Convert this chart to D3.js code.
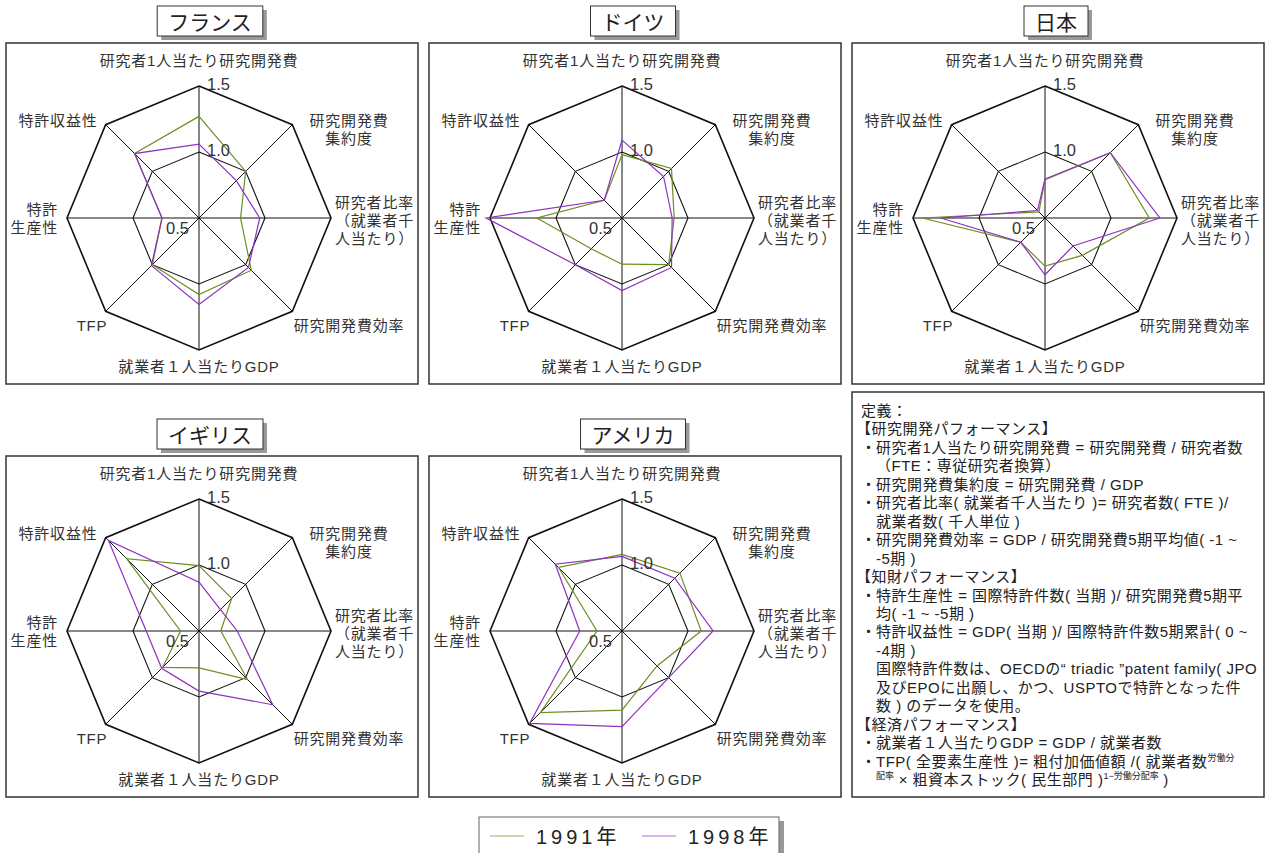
<!DOCTYPE html>
<html>
<head>
<meta charset="utf-8">
<script src="https://cdn.jsdelivr.net/npm/d3@7"></script>
<style>
  body { margin: 0; background: #fff; }
  svg { display: block; }
  text { font-family: "Liberation Sans", "Noto Sans CJK JP", sans-serif; fill: #222; }
</style>
</head>
<body>
<script>
// axis labels, clockwise from the top (each entry = lines of the label)
var axisLabels = [
    ["研究者1人当たり研究開発費"],
    ["研究開発費", "集約度"],
    ["研究者比率", "（就業者千", "人当たり）"],
    ["研究開発費効率"],
    ["就業者１人当たりGDP"],
    ["TFP"],
    ["特許", "生産性"],
    ["特許収益性"]
];
var countries = ["フランス", "ドイツ", "日本", "イギリス", "アメリカ"];
var years = ["1991年", "1998年"];
var ticks = [0.5, 1.0, 1.5];

// values, same axis order as above
var france1991 = [1.27, 1.00, 0.815, 1.06, 1.08, 1.00, 0.78, 1.19];
var france1998 = [1.06, 0.90, 0.96, 1.03, 1.155, 1.01, 0.78, 1.19];
var germany1991 = [0.98, 1.03, 0.895, 1.00, 0.85, 0.83, 1.145, 0.69];
var germany1998 = [1.09, 0.945, 0.88, 1.03, 1.05, 1.00, 1.53, 0.69];
var japan1991 = [0.79, 1.20, 1.29, 0.90, 0.865, 0.76, 1.43, 0.565];
var japan1998 = [0.795, 1.20, 1.37, 0.80, 0.93, 0.76, 1.29, 0.58];
var uk1991 = [0.995, 0.85, 0.665, 1.02, 0.78, 0.89, 0.64, 1.275];
var uk1998 = [0.87, 0.73, 0.79, 1.29, 0.955, 0.90, 0.90, 1.47];
var usa1991 = [1.08, 1.12, 1.10, 0.875, 1.10, 1.375, 0.69, 1.18];
var usa1998 = [1.065, 1.065, 1.19, 1.00, 1.225, 1.49, 0.82, 1.215];

var seriesByCountry = [
    [france1991, france1998],
    [germany1991, germany1998],
    [japan1991, japan1998],
    [uk1991, uk1998],
    [usa1991, usa1998]
];

// definitions text: segments are [text, isSuperscript]
var definitions = [
    {x: 861, segs: [["定義：", 0]]},
    {x: 856, segs: [["【研究開発パフォーマンス】", 0]]},
    {x: 876, b: 1, segs: [["研究者1人当たり研究開発費 = 研究開発費 / 研究者数", 0]]},
    {x: 876, segs: [["（FTE：専従研究者換算）", 0]]},
    {x: 876, b: 1, segs: [["研究開発費集約度 = 研究開発費 / GDP", 0]]},
    {x: 876, b: 1, segs: [["研究者比率( 就業者千人当たり )= 研究者数( FTE )/", 0]]},
    {x: 876, segs: [["就業者数( 千人単位 )", 0]]},
    {x: 876, b: 1, segs: [["研究開発費効率 = GDP / 研究開発費5期平均値( -1 ~", 0]]},
    {x: 876, segs: [["-5期 )", 0]]},
    {x: 856, segs: [["【知財パフォーマンス】", 0]]},
    {x: 876, b: 1, segs: [["特許生産性 = 国際特許件数( 当期 )/ 研究開発費5期平", 0]]},
    {x: 876, segs: [["均( -1 ~ -5期 )", 0]]},
    {x: 876, b: 1, segs: [["特許収益性 = GDP( 当期 )/ 国際特許件数5期累計( 0 ~", 0]]},
    {x: 876, segs: [["-4期 )", 0]]},
    {x: 876, segs: [["国際特許件数は、OECDの“ triadic ”patent family( JPO", 0]]},
    {x: 876, segs: [["及びEPOに出願し、かつ、USPTOで特許となった件", 0]]},
    {x: 876, segs: [["数 ) のデータを使用。", 0]]},
    {x: 856, segs: [["【経済パフォーマンス】", 0]]},
    {x: 876, b: 1, segs: [["就業者１人当たりGDP = GDP / 就業者数", 0]]},
    {x: 876, b: 1, segs: [["TFP( 全要素生産性 )= 粗付加価値額 /( 就業者数", 0], ["労働分", 1]]},
    {x: 876, segs: [["配率", 1], [" × 粗資本ストック( 民生部門 )", 0], ["1−労働分配率", 1], [" )", 0]]}
];

var W = 1266, H = 853;
var colors = ["#6b8e23", "#8e30c0"];
var panelW = 412, panelH = 341;
var panelPos = [[6, 43], [429, 43], [852, 43], [6, 456], [429, 456]];
var R = 132;

var svg = d3.select("body").append("svg")
    .attr("width", W)
    .attr("height", H);

var r = d3.scaleLinear().domain([0.5, 1.5]).range([0, R]);
var angle = d3.scaleLinear().domain([0, axisLabels.length]).range([0, 2 * Math.PI]);

function pt(i, v) {
    var a = angle(i);
    return [Math.sin(a) * r(v), -Math.cos(a) * r(v)];
}

var radarLine = d3.line()
    .x(function (d) { return d[0]; })
    .y(function (d) { return d[1]; })
    .curve(d3.curveLinearClosed);

// label offsets from centre: [dx, dy of first line, anchor]
var labelPlace = [
    [0, -158, "middle"],
    [150, -98, "middle"],
    [136, -16, "start"],
    [150, 107, "middle"],
    [0, 148, "middle"],
    [-107, 107, "middle"],
    [-141, -9, "end"],
    [-141, -98, "middle"]
];

countries.forEach(function (name, k) {
    var px = panelPos[k][0], py = panelPos[k][1];
    var cx = px + 193, cy = py + 175;

    var g = svg.append("g");

    // panel frame
    g.append("rect")
        .attr("x", px).attr("y", py)
        .attr("width", panelW).attr("height", panelH)
        .attr("fill", "#fff").attr("stroke", "#333").attr("stroke-width", 1.5);

    // title box with drop shadow
    var tg = g.append("g");
    var tt = tg.append("text")
        .attr("x", px + 204).attr("y", py - 22)
        .attr("text-anchor", "middle")
        .attr("dominant-baseline", "central")
        .style("font-size", "21px")
        .style("font-family", "'Noto Sans CJK JP', sans-serif")
        .text(name);
    var tw = tt.node().getComputedTextLength() + 22;
    tg.insert("rect", "text")
        .attr("x", px + 204 - tw / 2).attr("y", py - 37)
        .attr("width", tw).attr("height", 30)
        .attr("fill", "#fff").attr("stroke", "#333").attr("stroke-width", 1);
    tg.insert("rect", "rect")
        .attr("x", px + 204 - tw / 2 + 4).attr("y", py - 33)
        .attr("width", tw).attr("height", 30)
        .attr("fill", "#999");

    var c = g.append("g").attr("transform", "translate(" + cx + "," + cy + ")");

    // rings
    [1.0, 1.5].forEach(function (t) {
        c.append("path")
            .attr("d", radarLine(axisLabels.map(function (_, i) { return pt(i, t); })))
            .attr("fill", "none").attr("stroke", "#111")
            .attr("stroke-width", t === 1.5 ? 1.6 : 1.1);
    });

    // spokes
    axisLabels.forEach(function (_, i) {
        var p = pt(i, 1.5);
        c.append("line")
            .attr("x1", 0).attr("y1", 0)
            .attr("x2", p[0]).attr("y2", p[1])
            .attr("stroke", "#111").attr("stroke-width", 1);
    });

    // data
    seriesByCountry[k].forEach(function (vals, s) {
        c.append("path")
            .attr("d", radarLine(vals.map(function (v, i) { return pt(i, v); })))
            .attr("fill", "none").attr("stroke", colors[s]).attr("stroke-width", 1.2);
    });

    // tick labels
    ticks.forEach(function (t) {
        var isZero = t === 0.5;
        c.append("text")
            .attr("x", isZero ? -10 : 8)
            .attr("y", isZero ? 10 : -r(t) - 2)
            .attr("text-anchor", isZero ? "end" : "start")
            .attr("dominant-baseline", "central")
            .style("font-size", "16.5px")
            .style("fill", "#333")
            .text(d3.format(".1f")(t));
    });

    // axis labels
    axisLabels.forEach(function (lines, i) {
        var lp = labelPlace[i];
        var txt = c.append("text")
            .attr("text-anchor", lp[2])
            .style("font-size", "15px")
            .style("letter-spacing", "0.8px")
            .style("fill", "#333");
        lines.forEach(function (ln, j) {
            txt.append("tspan")
                .attr("x", lp[0])
                .attr("y", lp[1] + j * 18)
                .attr("dominant-baseline", "central")
                .text(ln);
        });
    });
});

// definitions box
svg.append("rect")
    .attr("x", 852).attr("y", 392)
    .attr("width", 412).attr("height", 405)
    .attr("fill", "#fff").attr("stroke", "#333").attr("stroke-width", 1.5);

definitions.forEach(function (d, i) {
    var y = 416 + i * 18.45;
    if (d.b) {
        svg.append("text")
            .attr("x", 861).attr("y", y)
            .style("font-size", "15px")
            .text("・");
    }
    var t = svg.append("text")
        .attr("x", d.x).attr("y", y)
        .style("font-size", "15px")
        .style("letter-spacing", "0.5px");
    var cur = 0;
    d.segs.forEach(function (s) {
        var target = s[1] ? -6 : 0;
        t.append("tspan")
            .attr("dy", target - cur)
            .style("font-size", s[1] ? "9px" : null)
            .style("letter-spacing", s[1] ? "0px" : null)
            .text(s[0]);
        cur = target;
    });
});

// legend
var lg = svg.append("g");
lg.append("rect")
    .attr("x", 484).attr("y", 821)
    .attr("width", 300).attr("height", 50)
    .attr("fill", "#999");
lg.append("rect")
    .attr("x", 479).attr("y", 817)
    .attr("width", 300).attr("height", 50)
    .attr("fill", "#fff").attr("stroke", "#666").attr("stroke-width", 1);

var legendX = d3.scaleOrdinal().domain(years).range([490, 642]);
years.forEach(function (yr, s) {
    var x0 = legendX(yr);
    lg.append("line")
        .attr("x1", x0).attr("x2", x0 + 34)
        .attr("y1", 836).attr("y2", 836)
        .attr("stroke", colors[s]).attr("stroke-width", 1.2)
        .attr("stroke-opacity", 0.7);
    lg.append("text")
        .attr("x", x0 + 46).attr("y", 837)
        .attr("dominant-baseline", "central")
        .style("font-size", "20px")
        .style("letter-spacing", "4px")
        .text(yr);
});
</script>
</body>
</html>
